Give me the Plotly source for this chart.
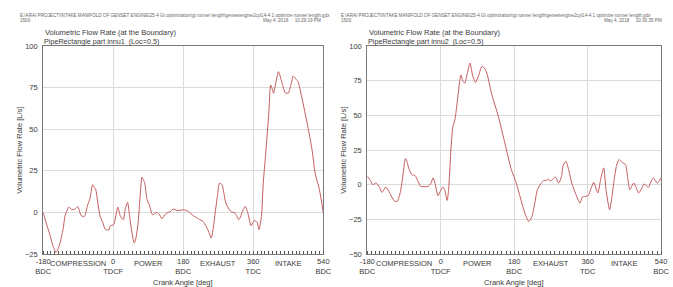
import plotly.graph_objects as go

# ---- data ----
left_deg = [-180, -170, -162, -155, -147, -140, -133, -128, -124, -118, -114, -106, -98, -91.5, -82, -74,
            -65.5, -60, -53, -48, -44.7, -34.6, -27, -19.6, -11, -7, 1, 12, 18, 26, 31, 37, 42, 47, 54, 58,
            64, 70, 74, 81, 87, 93, 101, 112, 118, 125, 135, 147.5, 154, 164, 172, 181, 193, 206, 220, 231,
            239, 246, 252, 258, 263, 268, 273, 279.6, 289.6, 302, 313, 323, 333, 339.6, 346, 354.6, 363,
            370, 374.6, 381, 385.6, 390, 394, 400, 404.7, 409, 412, 418, 424.7, 429, 434, 442, 450, 457,
            463, 470, 475, 486, 498.5, 511, 519, 530, 540]
left_flow = [0, -8, -14, -20, -24, -21, -15, -9, -2.4, 1.5, 3.2, 1.6, 2, 3.6, -2, -2.4,
             4.6, 8, 16.6, 15, 13.6, -1.4, -6, -10.4, -10.4, -8, -7.4, 3.2, -2, -4.4, 2, 6, -2, -10.4, -18.4, -16,
             -6.4, 12, 21.2, 17.6, 7.6, 4.6, -1.4, 0, -1, -3.8, -0.8, 0.6, 2, 1.2, 1.2, 1.6, 0.6, -2, -4, -5.4,
             -8.4, -12, -15.4, -8, 1.6, 10, 17.6, 16.6, 5.6, 0.6, -0.4, -4.4, 1, 3.6, -0.4, -8, -4.8,
             -6, -10.4, -2.4, 17.6, 30, 41.6, 60, 76.6, 74, 71.6, 78, 84.6, 82, 77.6, 72, 71.6, 77,
             82, 80, 78.6, 67.6, 53.6, 37.6, 23.6, 13.6, -0.4]

right_deg = [-180, -172, -166.5, -158, -150, -144, -134.4, -125, -114.5, -106.6, -98.5, -92, -86.5, -82,
             -78.6, -70.6, -62.5, -55, -49, -30.6, -24, -18.6, -14, -6.6, 0, 5.4, 10, 15.7, 19, 21.4, 25,
             29.4, 35, 41.3, 49.3, 54, 59, 65, 71.8, 78, 85, 92, 101, 107, 113, 125, 141, 157, 173, 185,
             193, 201, 208, 215.7, 223.6, 230, 237, 247.6, 252, 258.8, 265, 269, 275, 281, 289, 296, 300,
             306.8, 314, 321, 330, 341, 347, 353, 361, 368, 375, 385, 392, 399.4, 405, 413.8, 419, 425,
             431, 437, 445, 453, 458, 463.5, 473, 480, 485, 492, 498.7, 509, 515, 521, 530.6, 540]
right_flow = [6, 3, 0, 1.2, -2, -5.6, -1.7, -6, -11.4, -12.1, -4.9, 8, 18.8, 16,
              12.1, 7.2, 6.5, 2, -1.2, -1.2, 1, 4.9, 1, -8, -4, -1.7, -4, -11.4, -5, 6, 25,
              41, 47.1, 61.6, 79, 75, 73.2, 80, 87.7, 79, 73.7, 78, 85.3, 84, 80.4, 65.2, 49.5, 30.2, 10.9, 1.2,
              -7, -15.7, -22, -26.6, -23, -14, -3.6, 1.7, 3, 3.1, 4, 2.4, 4, 5.6, 1.2, 6, 14,
              16.9, 10, 1.2, -6, -13.3, -9, -8.5, -8, -3, 1.7, -6, 4, 12.1, -3.6, -18.1, -10, 3.6,
              14, 18.1, 16, 14.5, 5, -3.6, 1.2, -3, -6, -3, 0.5, -2, 2, 4.9, 1.2, 4.9]

tick_vals = [-180, 0, 180, 360, 540]
tick_text = ["-180<br>BDC", "0<br>TDCF", "180<br>BDC", "360<br>TDC", "540<br>BDC"]
stroke_pos = [-90, 90, 270, 450]
stroke_names = ["COMPRESSION", "POWER", "EXHAUST", "INTAKE"]
left_yticks = [-25, 0, 25, 50, 75, 100]
right_yticks = [-50, -25, 0, 25, 50, 75, 100]

W, H = 673, 287
T, B = 46, 33
PH = H - T - B
FONT = "Liberation Sans, Arial, sans-serif"
TXT = "#3a3a3a"
LINE = "rgb(196,92,92)"

def px(x):
    return x / W

def py(y):
    return (H - B - y) / PH

fig = go.Figure()
fig.add_trace(go.Scatter(x=left_deg, y=left_flow, mode="lines", line=dict(color=LINE, width=1, shape="spline", smoothing=0.6),
                         xaxis="x", yaxis="y", showlegend=False))
fig.add_trace(go.Scatter(x=right_deg, y=right_flow, mode="lines", line=dict(color=LINE, width=1, shape="spline", smoothing=0.6),
                         xaxis="x2", yaxis="y2", showlegend=False))

def xaxis(dom, anchor):
    return dict(domain=dom, anchor=anchor, range=[-180, 540], tickvals=tick_vals, ticktext=tick_text,
                showgrid=True, gridcolor="#dcdcdc", gridwidth=1, zeroline=False,
                showline=True, linecolor="#7a7a7a", linewidth=1, mirror=True,
                ticks="", tickfont=dict(family=FONT, size=7.5, color=TXT),
                minor=dict(dtick=10, tick0=-180, ticks="inside", ticklen=3, tickcolor="#555", showgrid=False))

def yaxis(dom, anchor, rng, tv):
    return dict(domain=dom, anchor=anchor, range=rng, tickvals=tv,
                showgrid=True, gridcolor="#dcdcdc", gridwidth=1, zeroline=False,
                showline=True, linecolor="#7a7a7a", linewidth=1, mirror=True,
                ticks="", ticklabelstandoff=3, tickfont=dict(family=FONT, size=7.5, color=TXT))

L1, R1 = 36, 323
L2, R2 = 368, 669
fig.update_layout(
    width=W, height=H, margin=dict(l=0, r=0, t=T, b=B),
    paper_bgcolor="white", plot_bgcolor="white",
    xaxis=xaxis([px(L1), px(R1)], "y"),
    yaxis=yaxis([0, 1], "x", [-25, 100], left_yticks),
    xaxis2=xaxis([px(L2), px(R2)], "y2"),
    yaxis2=yaxis([0, 1], "x2", [-50, 100], right_yticks),
)

ann = []
for xr, l, r, fname, date, part in [("x", L1, R1, "1500", "May 4, 2018     10:29:19 PM", "PipeRectangle part innu1  (Loc=0.5)"),
                                    ("x2", L2, R2, "1500", "May 4, 2018     10:30:35 PM", "PipeRectangle part innu2  (Loc=0.5)")]:
    for p, s in zip(stroke_pos, stroke_names):
        ann.append(dict(x=p, xref=xr, y=0, yref="paper", yanchor="top", yshift=-3, text=s, showarrow=False,
                        font=dict(family=FONT, size=7.5, color=TXT)))
    ann.append(dict(x=px((l + r) / 2), xref="paper", xanchor="center", y=py(282), yref="paper", yanchor="middle",
                    text="Crank Angle [deg]", showarrow=False, font=dict(family=FONT, size=7.5, color=TXT)))
    ann.append(dict(x=px(l - 25), xref="paper", xanchor="center", y=py(150), yref="paper", yanchor="middle",
                    text="Volumetric Flow Rate [L/s]", textangle=-90, showarrow=False,
                    font=dict(family=FONT, size=7.5, color=TXT)))
    ann.append(dict(x=px(l), xref="paper", xanchor="left", y=py(32), yref="paper", yanchor="middle",
                    text="Volumetric Flow Rate (at the Boundary)", showarrow=False,
                    font=dict(family=FONT, size=7.5, color=TXT)))
    ann.append(dict(x=px(l - 1), xref="paper", xanchor="left", y=py(41), yref="paper", yanchor="middle",
                    text=part, showarrow=False, font=dict(family=FONT, size=7.2, color=TXT)))
    hx = l - 26 if xr == "x" else l - 29
    ann.append(dict(x=px(hx), xref="paper", xanchor="left", y=py(15), yref="paper", yanchor="middle",
                    text="E:\\ARAI PROJECT\\INTAKE MANIFOLD OF GENSET ENGINE\\25-4 Gt optimization\\gt runner length\\gensetengine2cyl14-4 1 optimize runner length.gdx",
                    showarrow=False, font=dict(family=FONT, size=4.6, color="#666")))
    ann.append(dict(x=px(hx), xref="paper", xanchor="left", y=py(20), yref="paper", yanchor="middle",
                    text=fname, showarrow=False, font=dict(family=FONT, size=4.6, color="#666")))
    ann.append(dict(x=px(r if xr == "x" else 672), xref="paper", xanchor="right", y=py(20), yref="paper",
                    yanchor="middle", text=date, showarrow=False, font=dict(family=FONT, size=4.6, color="#666")))
fig.update_layout(annotations=ann)

fig.write_html("out.html", config={"displayModeBar": False},
               post_script="document.body.style.margin='0';")
